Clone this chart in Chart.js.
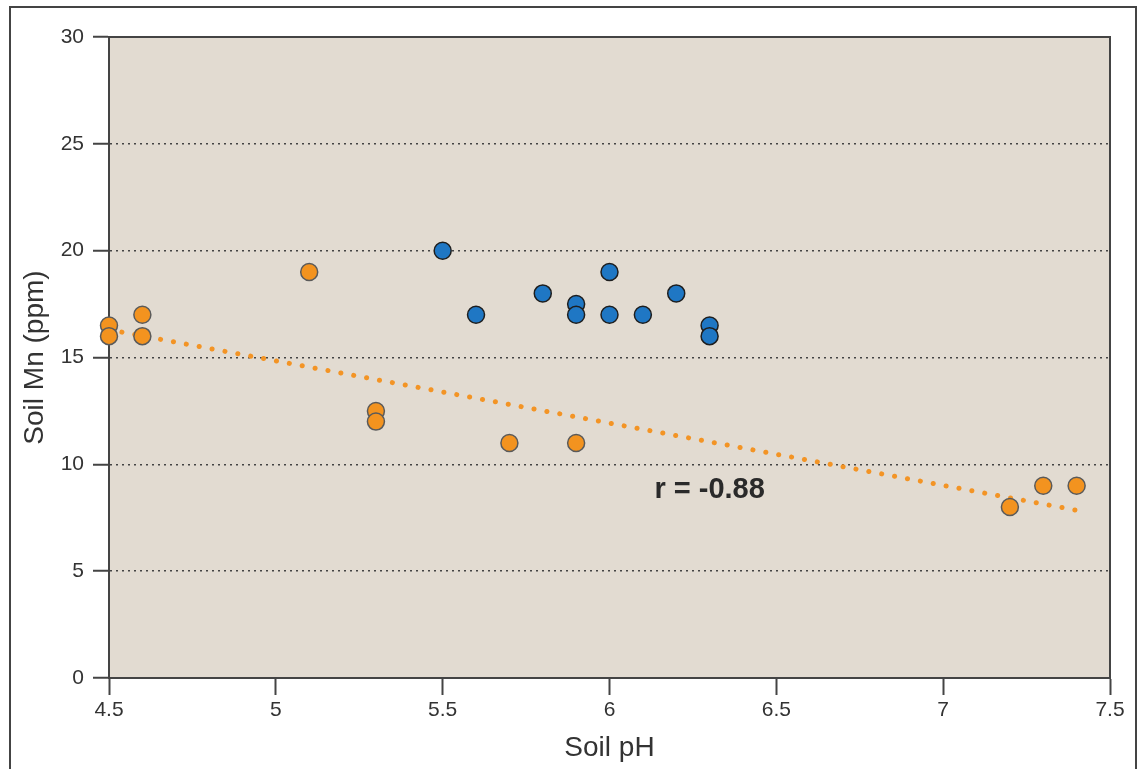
<!DOCTYPE html>
<html>
<head>
<meta charset="utf-8">
<script src="https://cdn.jsdelivr.net/npm/chart.js@4"></script>
<style>
    html, body { margin: 0; padding: 0; background: #fff; }
    #wrap { position: relative; width: 1145px; height: 769px; }
    #frame { position: absolute; left: 9px; top: 6px; width: 1128px; height: 800px; border: 2px solid #444; box-sizing: border-box; }
    canvas { position: absolute; left: 0; top: 0; }
</style>
</head>
<body>
<div id="wrap">
    <div id="frame"></div>
    <canvas id="mnChart" width="1145" height="769"></canvas>
</div>
<script>
// Orange group (low / high pH)
const orangePH = [4.5, 4.5, 4.6, 4.6, 5.1, 5.3, 5.3, 5.7, 5.9, 7.2, 7.3, 7.4];
const orangeMn = [16.5, 16, 17, 16, 19, 12.5, 12, 11, 11, 8, 9, 9];

// Blue group (mid pH)
const bluePH = [5.5, 5.6, 5.8, 5.9, 5.9, 6.0, 6.0, 6.1, 6.2, 6.3, 6.3];
const blueMn = [20, 17, 18, 17.5, 17, 19, 17, 17, 18, 16.5, 16];

// Trend line end points
const trendPH = [4.5, 7.4];
const trendMn = [16.3, 7.85];

const xTicks = [4.5, 5, 5.5, 6, 6.5, 7, 7.5];
const yTicks = [0, 5, 10, 15, 20, 25, 30];

const rLabel = "r = -0.88";
const rPos = [6.3, 8.8];

function toPoints(xs, ys) {
    return xs.map((x, i) => ({ x: x, y: ys[i] }));
}

const FONT = "'Liberation Sans', Arial, Helvetica, sans-serif";

// plot background, box and the r label
const decor = {
    id: "decor",
    beforeDraw(chart) {
        const { ctx, chartArea: a } = chart;
        ctx.save();
        ctx.fillStyle = "#e2dbd1";
        ctx.fillRect(a.left, a.top, a.right - a.left, a.bottom - a.top);
        ctx.restore();
    },
    afterDraw(chart) {
        const { ctx, chartArea: a, scales } = chart;
        ctx.save();
        ctx.strokeStyle = "#444";
        ctx.lineWidth = 2;
        ctx.beginPath();
        ctx.moveTo(a.left, a.top);
        ctx.lineTo(a.right, a.top);
        ctx.lineTo(a.right, a.bottom);
        ctx.stroke();
        ctx.fillStyle = "#2a2a2a";
        ctx.font = "bold 29px " + FONT;
        ctx.textAlign = "center";
        ctx.textBaseline = "middle";
        ctx.fillText(rLabel, scales.x.getPixelForValue(rPos[0]), scales.y.getPixelForValue(rPos[1]));
        ctx.restore();
    }
};

new Chart(document.getElementById("mnChart").getContext("2d"), {
    type: "scatter",
    data: {
        datasets: [
            {
                type: "line",
                data: toPoints(trendPH, trendMn),
                borderColor: "#f39425",
                borderWidth: 5,
                borderDash: [0.1, 13],
                borderCapStyle: "round",
                pointRadius: 0,
                fill: false,
                order: 3
            },
            {
                data: toPoints(orangePH, orangeMn),
                backgroundColor: "#f3931f",
                borderColor: "#5a5a5a",
                borderWidth: 1.5,
                pointRadius: 8.5,
                clip: false,
                order: 1
            },
            {
                data: toPoints(bluePH, blueMn),
                backgroundColor: "#1f77c4",
                borderColor: "#1e1e1e",
                borderWidth: 1.5,
                pointRadius: 8.5,
                clip: false,
                order: 2
            }
        ]
    },
    options: {
        responsive: false,
        animation: false,
        layout: { padding: { top: 37, right: 35, left: 14, bottom: 0 } },
        plugins: {
            legend: { display: false },
            tooltip: { enabled: false }
        },
        scales: {
            x: {
                type: "linear",
                min: 4.5,
                max: 7.5,
                afterBuildTicks: (axis) => { axis.ticks = xTicks.map(v => ({ value: v })); },
                afterFit: (axis) => { axis.height = 91; },
                border: { color: "#444", width: 2 },
                grid: { drawOnChartArea: false, tickLength: 17, tickColor: "#444", tickWidth: 2 },
                ticks: {
                    color: "#333",
                    font: { family: FONT, size: 21 },
                    padding: 3,
                    callback: (v) => String(v)
                },
                title: {
                    display: true,
                    text: "Soil pH",
                    color: "#333",
                    font: { family: FONT, size: 28 },
                    padding: { top: 8 }
                }
            },
            y: {
                min: 0,
                max: 30,
                afterBuildTicks: (axis) => { axis.ticks = yTicks.map(v => ({ value: v })); },
                afterFit: (axis) => { axis.width = 95; },
                border: { color: "#444", width: 2, dash: [2, 4] },
                grid: {
                    color: (c) => (c.tick && (c.tick.value === 0 || c.tick.value === 30)) ? "rgba(0,0,0,0)" : "#444",
                    lineWidth: 1.5,
                    tickLength: 16,
                    tickColor: "#444",
                    tickWidth: 2,
                    tickBorderDash: [1, 0]
                },
                ticks: {
                    color: "#333",
                    font: { family: FONT, size: 21 },
                    padding: 9
                },
                title: {
                    display: true,
                    text: "Soil Mn (ppm)",
                    color: "#333",
                    font: { family: FONT, size: 28 },
                    padding: { bottom: 4 }
                }
            }
        }
    },
    plugins: [decor]
});
</script>
</body>
</html>
